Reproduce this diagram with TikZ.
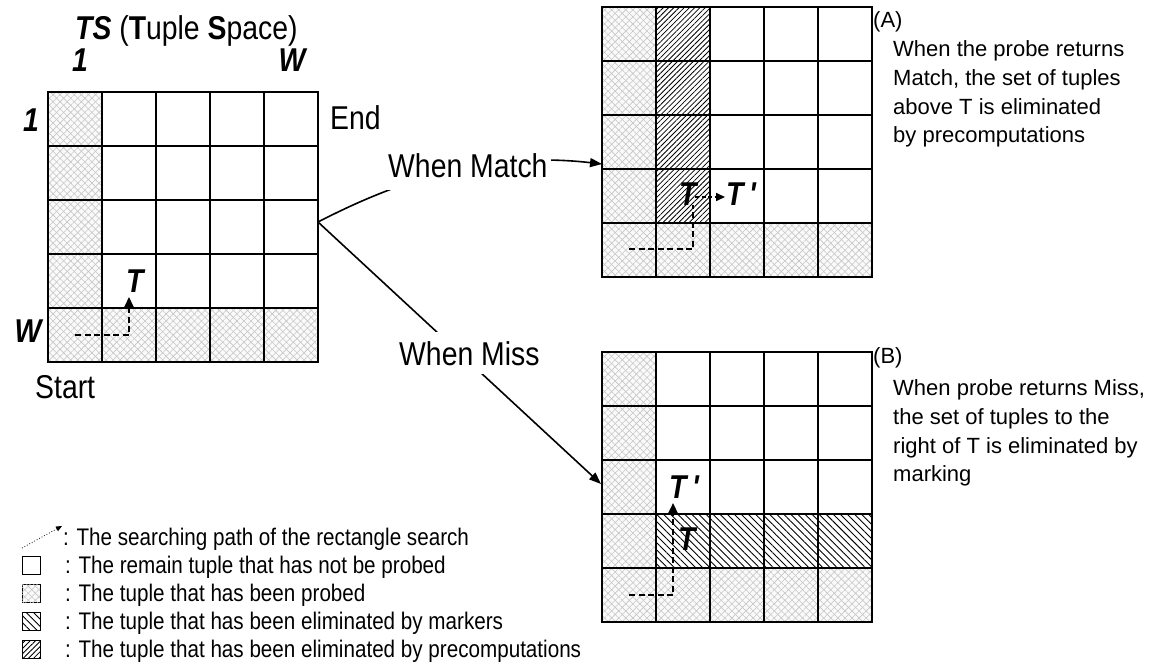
\documentclass[tikz,border=0pt]{standalone}
\usepackage{fontspec}
\setmainfont{Liberation Sans}[FakeStretch=0.86]
\newfontfamily\descfont{Liberation Sans}
\usetikzlibrary{patterns.meta,arrows.meta}

% 5x5 table of tuples, top-left corner at (#1,#2), cells of 54
\newcommand\tuplegrid[2]{%
  \foreach \k in {0,...,5}{%
    \draw[gridline] ({#1+\k*54},#2) -- ({#1+\k*54},{#2+270});
    \draw[gridline] (#1,{#2+\k*54}) -- ({#1+270},{#2+\k*54});
  }}

\tikzset{
  gridline/.style={line width=1.5pt, line cap=rect},
  gridframe/.style={minimum width=270pt, minimum height=270pt, inner sep=0pt},
  probed/.style={fill=gray!4,
    postaction={pattern={Lines[angle=45,distance=5pt,line width=0.6pt]}, pattern color=gray!45},
    postaction={pattern={Lines[angle=-45,distance=5pt,line width=0.6pt]}, pattern color=gray!45}},
  precomp/.style={fill=white,
    postaction={pattern={Lines[angle=45,distance=3.7pt,line width=0.8pt]}, pattern color=black}},
  marked/.style={fill=white,
    postaction={pattern={Lines[angle=-45,distance=5pt,line width=0.9pt]}, pattern color=black}},
  keybox/.style={draw, line width=0.9pt, minimum width=18pt, minimum height=18pt, inner sep=0pt},
  big/.style={font=\fontsize{33}{38}\selectfont, inner sep=0pt},
  bigbi/.style={font=\fontsize{33}{38}\selectfont\bfseries\itshape, inner sep=0pt},
  desc/.style={font=\descfont\fontsize{22}{29}\selectfont, inner sep=0pt, anchor=base west},
  legend/.style={font=\fontsize{24}{28}\selectfont, inner sep=0pt, anchor=base west},
  search/.style={line width=2.2pt, dash pattern=on 6pt off 3.5pt},
  searchtip/.style={-{Triangle[length=10pt,width=9pt]}},
  conn/.style={line width=1.6pt},
  conntip/.style={-{Triangle[length=12pt,width=9pt]}},
  branch/.style={big, fill=white, anchor=base west},
}

\begin{document}
\begin{tikzpicture}[x=1pt,y=-1pt]
\useasboundingbox (0,0) rectangle (1155,671);

% ---------- tuple space before the probe ----------
\path[probed] (48,92) rectangle (102,362);
\path[probed] (48,308) rectangle (318,362);
\tuplegrid{48}{92}
\node[gridframe] (gridL) at (183,227) {};

\node[bigbi, anchor=base west] (title) at (75,40) {TS\normalfont\fontsize{33}{38}\selectfont\ (\textbf{T}uple \textbf{S}pace)};
\node[bigbi, anchor=base] (colOne) at (80,72) {1};
\node[bigbi, anchor=base] (colW) at (292,72) {W};
\node[bigbi, anchor=base] (rowOne) at (31,132) {1};
\node[bigbi, anchor=base] (rowW) at (28,342) {W};
\node[big, anchor=base west] (endL) at (330,130) {End};
\node[big, anchor=base west] (startL) at (35,398) {Start};

\coordinate (l0) at (75,335);
\coordinate (l1) at (129,335);
\coordinate (l2) at (129,297);
\draw[search, searchtip] (l0) -- (l1) -- (l2);
\node[bigbi, anchor=base west] (tL) at (126,292) {T};

% ---------- (A) after a match ----------
\path[probed] (602,7) rectangle (656,277);
\path[probed] (602,223) rectangle (872,277);
\path[precomp] (656,7) rectangle (710,223);
\tuplegrid{602}{7}
\node[gridframe] (gridA) at (737,142) {};

\node[bigbi, anchor=base west] (tA) at (679,205) {T};
\node[bigbi, anchor=base west] (tpA) at (726,205) {T\,\textquotesingle};
\coordinate (a0) at (629,249);
\coordinate (a1) at (693,249);
\coordinate (a2) at (693,205);
\draw[search] (a0) -- (a1) -- (a2);
\coordinate (a3) at (695,197);
\coordinate (a4) at (725,197);
\draw[line width=1.6pt, dash pattern=on 4pt off 2.5pt, -{Triangle[length=9pt,width=8pt]}] (a3) -- (a4);

\node[desc] (capA) at (873,28) {(A)};
\node[desc] (dA1) at (893,57) {When the probe returns};
\node[desc] (dA2) at (893,86) {Match, the set of tuples};
\node[desc] (dA3) at (893,115) {above T is eliminated};
\node[desc] (dA4) at (893,143) {by precomputations};

% ---------- (B) after a miss ----------
\path[probed] (602,352) rectangle (656,622);
\path[probed] (602,568) rectangle (872,622);
\path[marked] (656,514) rectangle (872,568);
\tuplegrid{602}{352}
\node[gridframe] (gridB) at (737,487) {};

\coordinate (b0) at (629,595);
\coordinate (b1) at (673,595);
\coordinate (b2) at (673,503);
\draw[search, searchtip] (b0) -- (b1) -- (b2);
\node[bigbi, anchor=base west] (tpB) at (669,498) {T\,\textquotesingle};
\node[bigbi, anchor=base west] (tB) at (678,550) {T};

\node[desc] (capB) at (873,363) {(B)};
\node[desc] (dB1) at (893,395) {When probe returns Miss,};
\node[desc] (dB2) at (893,424) {the set of tuples to the};
\node[desc] (dB3) at (893,453) {right of T is eliminated by};
\node[desc] (dB4) at (893,481) {marking};

% ---------- branches ----------
\coordinate (fork) at (318,222);
\coordinate (aIn) at (602,164);
\coordinate (bIn) at (601,484);
\draw[conn, conntip] (fork) .. controls (390,185) and (480,150) .. (aIn);
\draw[conn, conntip] (fork) -- (bIn);
\node[branch, inner xsep=3pt, inner ysep=12pt] (matchL) at (385,178) {When Match};
\node[branch, inner sep=9pt] (missL) at (390,365) {When Miss};

% ---------- legend ----------
\coordinate (k0) at (22,548);
\coordinate (k1) at (62,526);
\draw[line width=0.8pt, dotted, -{Triangle[length=6pt,width=5pt]}] (k0) -- (k1);
\node[legend] (kt1) at (63,545) {: The searching path of the rectangle search};
\node[keybox] (kb2) at (31,565) {};
\node[legend] (kt2) at (65,573) {: The remain tuple that has not be probed};
\node[keybox, probed] (kb3) at (31,593) {};
\node[legend] (kt3) at (65,601) {: The tuple that has been probed};
\node[keybox, marked] (kb4) at (31,621) {};
\node[legend] (kt4) at (65,629) {: The tuple that has been eliminated by markers};
\node[keybox, precomp] (kb5) at (31,649) {};
\node[legend] (kt5) at (65,657) {: The tuple that has been eliminated by precomputations};
\end{tikzpicture}
\end{document}
